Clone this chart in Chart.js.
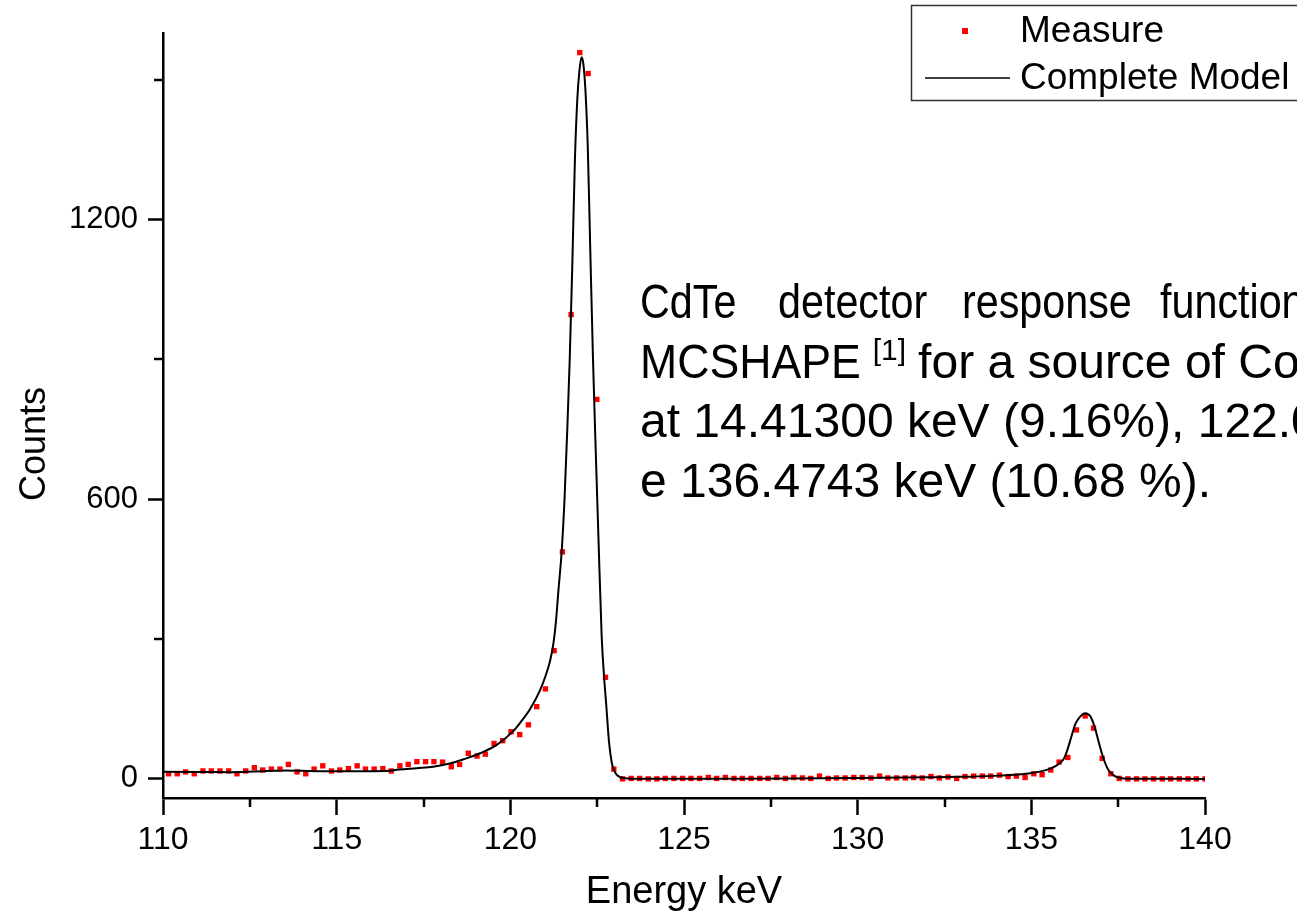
<!DOCTYPE html>
<html>
<head>
<meta charset="utf-8">
<title>CdTe detector response</title>
<script src="https://cdn.jsdelivr.net/npm/chart.js@4.4.1/dist/chart.umd.min.js"></script>
<style>
  html, body { margin: 0; padding: 0; background: #fff; }
  #wrap { width: 1297px; height: 917px; }
</style>
</head>
<body>
<div id="wrap"><canvas id="myChart" width="1297" height="917"></canvas></div>
<script>
// measured spectrum (channel energy in keV, counts)
var energies = [110.16, 110.41, 110.65, 110.90, 111.15, 111.39, 111.64, 111.89, 112.13, 112.38,
  112.63, 112.87, 113.12, 113.37, 113.61, 113.86, 114.11, 114.35, 114.60, 114.85,
  115.09, 115.34, 115.59, 115.83, 116.08, 116.33, 116.57, 116.82, 117.06, 117.31,
  117.56, 117.80, 118.05, 118.30, 118.54, 118.79, 119.04, 119.28, 119.53, 119.78,
  120.02, 120.27, 120.52, 120.76, 121.01, 121.26, 121.50, 121.75, 122.00, 122.24,
  122.49, 122.74, 122.98, 123.23, 123.48, 123.72, 123.97, 124.22, 124.46, 124.71,
  124.96, 125.20, 125.45, 125.70, 125.94, 126.19, 126.44, 126.68, 126.93, 127.18,
  127.42, 127.67, 127.92, 128.16, 128.41, 128.65, 128.90, 129.15, 129.39, 129.64,
  129.89, 130.13, 130.38, 130.63, 130.87, 131.12, 131.37, 131.61, 131.86, 132.11,
  132.35, 132.60, 132.85, 133.09, 133.34, 133.59, 133.83, 134.08, 134.33, 134.57,
  134.82, 135.07, 135.31, 135.56, 135.80, 136.05, 136.30, 136.55, 136.79, 137.04,
  137.29, 137.53, 137.78, 138.03, 138.27, 138.52, 138.77, 139.01, 139.26, 139.51,
  139.75, 140.00];
var counts = [11, 11, 15, 11, 17, 17, 17, 17, 11, 17,
  24, 19, 21, 21, 31, 15, 11, 21, 28, 17,
  19, 22, 28, 21, 21, 22, 17, 28, 31, 37,
  37, 37, 36, 26, 31, 55, 49, 53, 76, 82,
  101, 95, 116, 155, 193, 275, 487, 996, 1558, 1513,
  814, 218, 21, 0, 1, 1, 0, 0, 1, 1,
  1, 1, 1, 3, 1, 3, 1, 1, 1, 1,
  1, 3, 1, 3, 2, 1, 6, 1, 2, 2,
  3, 3, 2, 6, 2, 2, 2, 3, 2, 5,
  2, 4, 1, 5, 6, 6, 6, 8, 5, 6,
  3, 11, 9, 19, 36, 46, 105, 135, 109, 44,
  11, 1, 0, 0, 0, 0, 0, 0, 0, 0,
  0, 0];

// complete model curve
var modelE = [110.0, 111.0, 112.0, 113.0, 113.5, 114.5, 115.5, 116.4, 116.8, 117.3,
  117.78, 118.26, 118.65, 119.13, 119.61, 120.09, 120.3, 120.57, 120.86, 121.0,
  121.14, 121.24, 121.31, 121.38, 121.48, 121.56, 121.64, 121.71, 121.78, 121.86,
  121.93, 121.99, 122.05, 122.10, 122.16, 122.23, 122.30, 122.38, 122.46, 122.54,
  122.63, 122.70, 122.76, 122.84, 122.92, 122.98, 123.06, 123.15, 123.3, 123.5,
  126.0, 128.0, 130.0, 132.0, 133.0, 134.1, 135.06, 135.54, 135.83, 135.95,
  136.05, 136.15, 136.27, 136.40, 136.55, 136.70, 136.82, 136.93, 137.03, 137.13,
  137.22, 137.35, 137.46, 137.6, 137.75, 140.0];
var modelC = [15.5, 15, 14.5, 17, 18, 16.5, 16.5, 17, 20, 23,
  26, 33, 42, 55, 73, 103, 122, 150, 191, 218,
  252, 290, 335, 400, 490, 600, 750, 900, 1090, 1330,
  1460, 1520, 1548, 1535, 1480, 1355, 1140, 900, 700, 510,
  305, 218, 160, 80, 35, 20, 9, 4, 1.5, 0.5,
  0.5, 1, 2, 3.5, 4.5, 7, 13, 22, 34, 45,
  65, 90, 118, 133, 141, 134, 112, 82, 55, 33,
  19, 9, 4, 1.5, 0.5, 0];

var xTicks = [110, 115, 120, 125, 130, 135, 140];
var xMinor = [112.5, 117.5, 122.5, 127.5, 132.5, 137.5];
var yTicks = [0, 600, 1200];
var yMinor = [300, 900, 1500];

var seriesNames = ['Measure', 'Complete Model'];
var noteLines = [
  ['CdTe', 'detector', 'response', 'function', 'of'],
  'for a source of Co57',
  'at 14.41300 keV (9.16%), 122.06065 keV (85.60%)',
  'e 136.4743 keV (10.68 %).'
];

var FONT = "'Liberation Sans', Arial, Helvetica, sans-serif";

function toPoints(xs, ys) {
  var pts = [];
  for (var i = 0; i < xs.length; i++) pts.push({ x: xs[i], y: ys[i] });
  return pts;
}

// minor ticks, axis titles, legend and the note
var extras = {
  id: 'extras',
  afterDraw: function (chart) {
    var ctx = chart.ctx;
    var xs = chart.scales.x, ys = chart.scales.y;
    var area = chart.chartArea;
    ctx.save();
    ctx.strokeStyle = '#000';
    ctx.lineWidth = 2.5;
    ctx.beginPath();
    xMinor.forEach(function (v) {
      var px = Math.round(xs.getPixelForValue(v));
      ctx.moveTo(px, area.bottom);
      ctx.lineTo(px, area.bottom + 9);
    });
    yMinor.forEach(function (v) {
      var py = Math.round(ys.getPixelForValue(v));
      ctx.moveTo(area.left, py);
      ctx.lineTo(area.left - 9, py);
    });
    ctx.stroke();

    // axis titles
    ctx.fillStyle = '#000';
    ctx.textBaseline = 'middle';
    ctx.textAlign = 'center';
    ctx.font = '38px ' + FONT;
    ctx.fillText('Energy keV', (area.left + area.right) / 2, 893);
    ctx.save();
    ctx.translate(35, 444);
    ctx.rotate(-Math.PI / 2);
    ctx.font = '36px ' + FONT;
    ctx.fillText('Counts', 0, 0);
    ctx.restore();

    // legend box
    ctx.lineWidth = 1.5;
    ctx.strokeStyle = '#333';
    ctx.strokeRect(911.5, 5.5, 420, 95);
    ctx.fillStyle = '#ff0000';
    ctx.fillRect(962, 28, 6, 6);
    ctx.strokeStyle = '#000';
    ctx.beginPath();
    ctx.moveTo(925, 78);
    ctx.lineTo(1010, 78);
    ctx.stroke();
    ctx.fillStyle = '#000';
    ctx.textAlign = 'left';
    ctx.font = '37px ' + FONT;
    ctx.fillText(seriesNames[0], 1020, 32);
    ctx.fillText(seriesNames[1], 1020, 79);

    // note text (runs off the right edge like the original slide)
    ctx.font = '48px ' + FONT;
    ctx.textBaseline = 'alphabetic';
    var wordX = [640, 778, 962, 1160, 1400];
    noteLines[0].forEach(function (w, i) {
      ctx.save();
      ctx.translate(wordX[i], 318);
      ctx.scale(0.86, 1);
      ctx.fillText(w, 0, 0);
      ctx.restore();
    });
    ctx.save();
    ctx.translate(640, 378);
    ctx.scale(0.93, 1);
    ctx.fillText('MCSHAPE', 0, 0);
    ctx.restore();
    var mw = ctx.measureText('MCSHAPE').width * 0.93;
    ctx.font = '30px ' + FONT;
    ctx.fillText('[1]', 640 + mw + 12, 360);
    var sw = ctx.measureText('[1]').width;
    ctx.font = '48px ' + FONT;
    ctx.fillText(noteLines[1], 640 + mw + 12 + sw + 12, 378);
    ctx.fillText(noteLines[2], 640, 437);
    ctx.fillText(noteLines[3], 640, 497);
    ctx.restore();
  }
};

var ctx = document.getElementById('myChart').getContext('2d');
var myChart = new Chart(ctx, {
  type: 'scatter',
  data: {
    datasets: [{
      label: seriesNames[0],
      data: toPoints(energies, counts),
      pointStyle: 'rect',
      pointRadius: 3.8,
      pointBorderWidth: 0,
      backgroundColor: '#ff0000',
      borderColor: '#ff0000',
      showLine: false,
      order: 2
    }, {
      label: seriesNames[1],
      data: toPoints(modelE, modelC),
      showLine: true,
      borderColor: '#000',
      borderWidth: 2,
      pointRadius: 0,
      cubicInterpolationMode: 'monotone',
      fill: false,
      order: 1
    }]
  },
  options: {
    responsive: false,
    animation: false,
    devicePixelRatio: 1,
    layout: { padding: { left: 0, right: 92, top: 33, bottom: 0 } },
    plugins: {
      legend: { display: false },
      tooltip: { enabled: false }
    },
    scales: {
      x: {
        type: 'linear',
        min: 110,
        max: 140,
        afterFit: function (scale) { scale.height = 119; },
        afterBuildTicks: function (scale) {
          scale.ticks = xTicks.map(function (v) { return { value: v }; });
        },
        grid: { drawOnChartArea: false, drawTicks: true, tickLength: 17, tickWidth: 2.5, tickColor: '#000' },
        border: { display: true, color: '#000', width: 2.5 },
        ticks: {
          color: '#000', padding: 6, maxRotation: 0,
          font: { family: FONT, size: 32 },
          callback: function (v) { return String(v); }
        }
      },
      y: {
        type: 'linear',
        min: -41,
        max: 1600,
        afterFit: function (scale) { scale.width = 163; },
        afterBuildTicks: function (scale) {
          scale.ticks = yTicks.map(function (v) { return { value: v }; });
        },
        grid: { drawOnChartArea: false, drawTicks: true, tickLength: 15, tickWidth: 2.5, tickColor: '#000' },
        border: { display: true, color: '#000', width: 2.5 },
        ticks: {
          color: '#000', padding: 10,
          font: { family: FONT, size: 31 },
          callback: function (v) { return String(v); }
        }
      }
    }
  },
  plugins: [extras]
});
</script>
</body>
</html>
